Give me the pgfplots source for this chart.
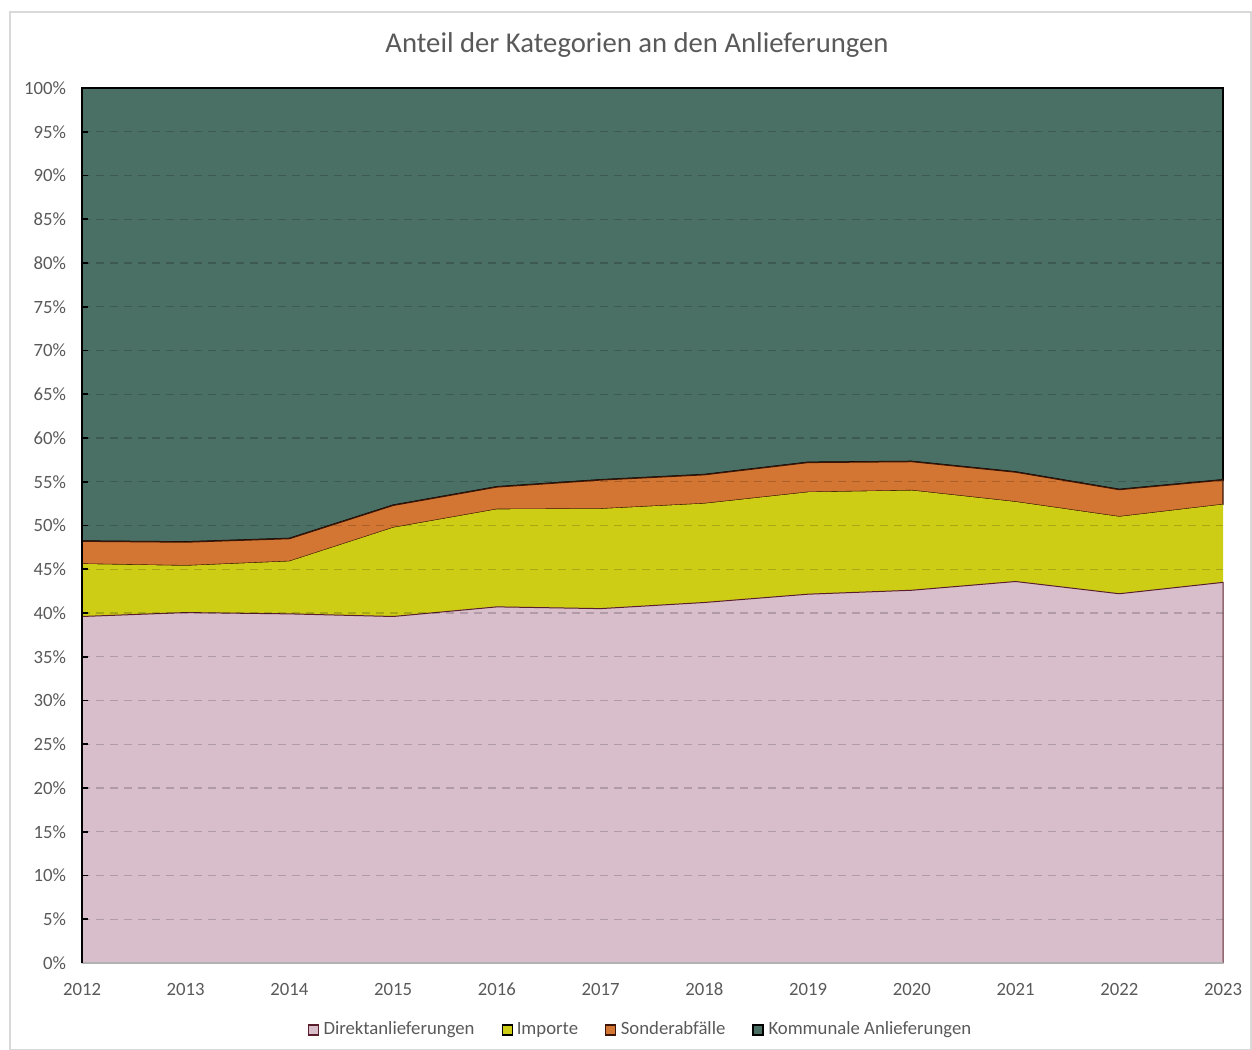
\documentclass[border=0pt]{standalone}
\usepackage{pgfplots}
\usepackage{pgfplotstable}
\pgfplotsset{compat=1.18}
\usepackage{fontspec}
\setmainfont{Carlito}
\definecolor{cDir}{HTML}{D8BECB}
\definecolor{cDirL}{HTML}{5A1E2C}
\definecolor{cImp}{HTML}{CDCD16}
\definecolor{cSon}{HTML}{D37633}
\definecolor{cSonL}{HTML}{3A1505}
\definecolor{cKom}{HTML}{4A6F65}
\definecolor{txt}{HTML}{595959}
\pgfplotstableread{
year dir imp son kom
2012 39.6 6.0 2.6 51.8
2013 40.05 5.35 2.7 51.9
2014 39.9 6.0 2.6 51.5
2015 39.6 10.15 2.55 47.7
2016 40.7 11.15 2.55 45.6
2017 40.5 11.4 3.3 44.8
2018 41.2 11.3 3.3 44.2
2019 42.15 11.65 3.4 42.8
2020 42.6 11.4 3.3 42.7
2021 43.6 9.1 3.4 43.9
2022 42.2 8.8 3.1 45.9
2023 43.5 8.9 2.8 44.8
}\data
\begin{document}
\begin{tikzpicture}
\useasboundingbox (0,0) rectangle (626bp,525bp);
\draw[black!15, line width=0.6bp] (5bp,0.3bp) rectangle (625.5bp,519bp);
\node[text=txt, font=\fontsize{14.4}{16}\selectfont] at (318.5bp,502.5bp) {Anteil der Kategorien an den Anlieferungen};
\begin{axis}[
  at={(41bp,43.5bp)}, anchor=south west,
  scale only axis, width=570.5bp, height=437.5bp,
  xmin=2012, xmax=2023, ymin=0, ymax=100,
  stack plots=y,
  clip=false,
  axis on top,
  axis lines*=left,
  x axis line style={black!30, line width=0.6bp},
  y axis line style={black, line width=0.8bp},
  xtick={2012,2013,...,2023},
  ytick={0,5,...,100},
  /pgf/number format/assume math mode=true,
  xticklabel style={/pgf/number format/1000 sep={}, yshift=-6.5bp},
  yticklabel={\pgfmathprintnumber{\tick}\%},
  yticklabel style={xshift=-4.5bp},
  ticklabel style={font=\fontsize{9.4}{11}\selectfont, text=txt},
  tick align=inside,
  major tick length=3bp,
  ytick style={black, line width=0.8bp},
  xtick style={draw=none},
  ymajorgrids,
  grid style={dashed, black, opacity=0.18, line width=0.6bp, dash pattern=on 4bp off 3bp},
  legend columns=4,
  legend style={at={(axis description cs:0.4895,-0.0765)}, anchor=center, draw=none, fill=none,
    font=\fontsize{9.4}{11}\selectfont, text=txt,
    /tikz/every even column/.append style={column sep=12.5bp},
    nodes={inner sep=1bp}},
  legend image code/.code={\draw[#1, line width=0.6bp] (0bp,-2.5bp) rectangle (5bp,2.5bp); \path (6.3bp,0bp);},
]
\addplot[fill=cDir, draw=cDirL, line width=0.5bp] table[x=year,y=dir]{\data} \closedcycle;
\addlegendentry{Direktanlieferungen}
\addplot[fill=cImp, draw=none] table[x=year,y=imp]{\data} \closedcycle;
\addlegendentry{Importe}
\addplot[fill=cSon, draw=cSonL, line width=0.6bp] table[x=year,y=son]{\data} \closedcycle;
\addlegendentry{Sonderabfälle}
\addplot[fill=cKom, draw=black, line width=0.9bp] table[x=year,y=kom]{\data} \closedcycle;
\addlegendentry{Kommunale Anlieferungen}
\end{axis}
\end{tikzpicture}
\end{document}
